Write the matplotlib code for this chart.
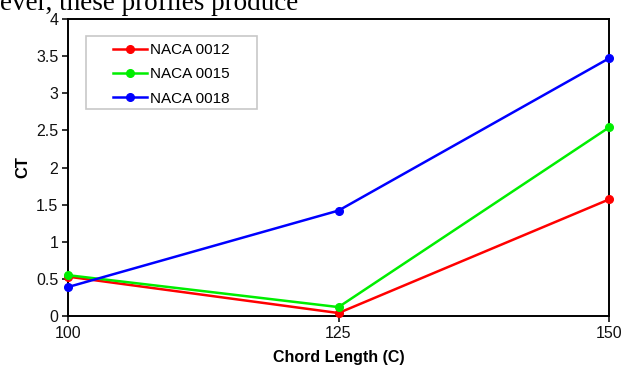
import matplotlib.pyplot as plt
from matplotlib.patches import Rectangle
from matplotlib.ticker import MultipleLocator, FormatStrFormatter

chord = [100, 125, 150]
naca_0012 = [0.53, 0.04, 1.57]
naca_0015 = [0.55, 0.12, 2.54]
naca_0018 = [0.39, 1.42, 3.47]

series = [
    ("NACA 0012", naca_0012, "#ff0000"),
    ("NACA 0015", naca_0015, "#00ee00"),
    ("NACA 0018", naca_0018, "#0000ff"),
]

W, H = 622, 365
plt.rcParams["font.family"] = ["Liberation Sans", "DejaVu Sans"]

fig = plt.figure(figsize=(W / 100, H / 100), dpi=100)
ax = fig.add_axes([68 / W, 1 - 316 / H, (609 - 68) / W, (316 - 19) / H])

for name, vals, col in series:
    ax.plot(chord, vals, color=col, lw=1.8, marker="o", ms=5.5, label=name,
            clip_on=False, zorder=3)

ax.set_xlim(100, 150)
ax.set_ylim(0, 4)
ax.set_xticks(chord)
ax.yaxis.set_major_locator(MultipleLocator(0.5))
ax.yaxis.set_major_formatter(FormatStrFormatter("%g"))
ax.tick_params(direction="out", length=4, width=1.2, labelsize=11.5, pad=3,
               colors="#111111")

for sp in ax.spines.values():
    sp.set_linewidth(1.4)

ax.set_xlabel("Chord Length (C)", fontsize=11.5, fontweight="bold", labelpad=7)
ax.set_ylabel("CT", fontsize=12, fontweight="bold", labelpad=4)

# legend entries without frame, box drawn separately underneath
leg = ax.legend(loc="upper left", bbox_to_anchor=(113 / W, 1 - 43 / H),
                bbox_transform=fig.transFigure, fontsize=11, frameon=False,
                handlelength=2.2, handletextpad=0.2, borderpad=0,
                borderaxespad=0, labelspacing=0.68)
leg.set_zorder(6)
ax.add_patch(Rectangle((86 / W, 1 - 109 / H), 171 / W, 73 / H,
                       transform=fig.transFigure, facecolor="white",
                       edgecolor="#c8c8c8", lw=1.2, zorder=5, clip_on=False))

# fragment of the surrounding paragraph above the chart
fig.text(0.0, 1.0 - 10 / H, "ever, these profiles produce", fontsize=19.5,
         family=["Liberation Serif", "DejaVu Serif"], va="baseline", ha="left")

fig.savefig("out.png", dpi=100)
